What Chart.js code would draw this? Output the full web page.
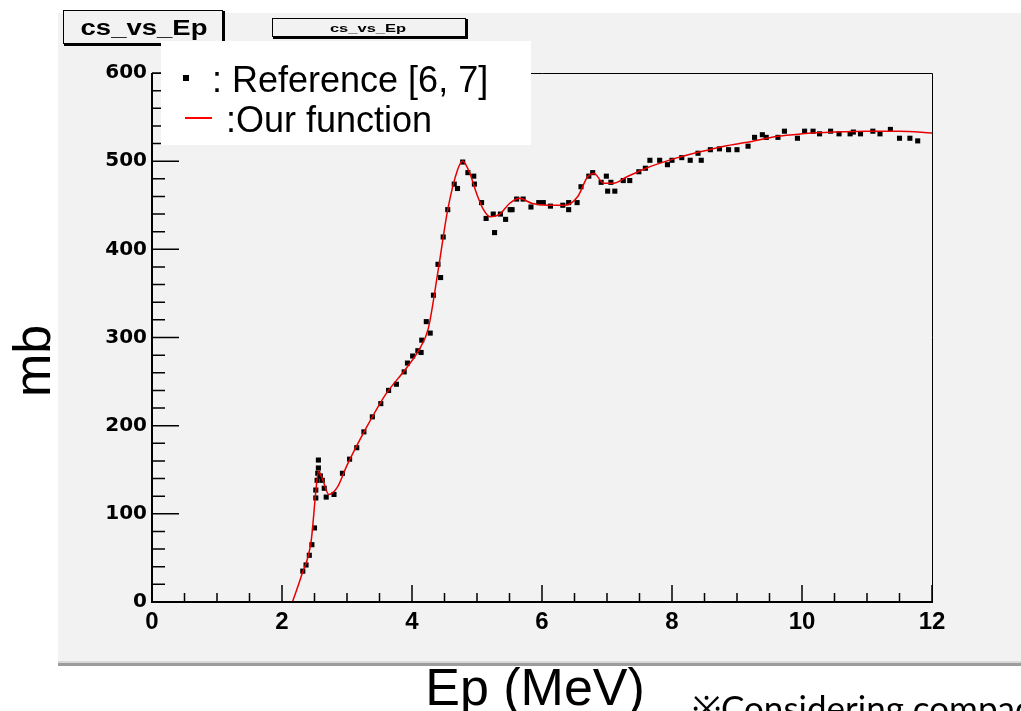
<!DOCTYPE html>
<html>
<head>
<meta charset="utf-8">
<title>cs_vs_Ep</title>
<script src="https://cdn.jsdelivr.net/npm/chart.js@4.4.1/dist/chart.umd.min.js"></script>
<style>
  html, body { margin: 0; padding: 0; background: #fff; }
  canvas { display: block; }
</style>
</head>
<body>
<canvas id="csChart" width="1021" height="711"></canvas>
<script>
// --- Reference cross section points (Ep in MeV, cs in mb) ---
const refEp = [
  2.32, 2.37, 2.42, 2.46, 2.50, 2.52, 2.52, 2.54, 2.55, 2.56, 2.56, 2.59, 2.62, 2.65, 2.68,
  2.80, 2.93, 3.04, 3.15, 3.26, 3.39, 3.52, 3.64, 3.76, 3.88, 3.93, 4.01, 4.09, 4.14, 4.15,
  4.22, 4.28, 4.33, 4.40, 4.44, 4.48, 4.55, 4.65, 4.70, 4.78, 4.86, 4.95, 4.96, 5.07, 5.14,
  5.25, 5.27, 5.36, 5.44, 5.51, 5.54, 5.61, 5.71, 5.83, 5.95, 6.02, 6.13, 6.32, 6.41, 6.41,
  6.54, 6.60, 6.72, 6.78, 6.91, 6.99, 7.01, 7.06, 7.12, 7.25, 7.35, 7.49, 7.59, 7.66, 7.81,
  7.93, 8.00, 8.15, 8.28, 8.40, 8.45, 8.59, 8.73, 8.87, 9.00, 9.17, 9.27, 9.39, 9.45, 9.63,
  9.73, 9.93, 10.04, 10.17, 10.27, 10.44, 10.57, 10.74, 10.79, 10.90, 11.09, 11.20, 11.36,
  11.50, 11.66, 11.78
];
const refCs = [
  35, 42, 53, 65, 84, 118, 127, 138, 146, 152, 161, 143, 138, 129, 119,
  122, 146, 162, 175, 193, 210, 225, 240, 247, 261, 271, 279, 285, 283, 297,
  318, 305, 348, 383, 368, 414, 445, 474, 469, 499, 487, 483, 474, 453, 435,
  440, 419, 440, 434, 445, 445, 457, 457, 448, 453, 453, 449, 450, 445, 453,
  453, 471, 483, 487, 476, 483, 466, 476, 466, 478, 478, 488, 492, 501, 501,
  496, 501, 504, 501, 509, 501, 513, 514, 513, 513, 517, 527, 530, 527, 527,
  534, 526, 534, 534, 531, 534, 531, 531, 533, 531, 534, 531, 536,
  526, 526, 523
];

// --- Fitted function (red curve) ---
const fitEp = [
  2.16, 2.3, 2.45, 2.52, 2.56, 2.62, 2.72, 2.85, 3.0, 3.3, 3.6, 3.9, 4.1, 4.25, 4.4,
  4.55, 4.7, 4.78, 4.88, 5.0, 5.1, 5.2, 5.35, 5.5, 5.65, 5.85, 6.1, 6.35, 6.55, 6.7,
  6.8, 6.95, 7.1, 7.3, 7.6, 8.0, 8.4, 8.8, 9.2, 9.6, 10.0, 10.5, 11.0, 11.5, 12.0
];
const fitCs = [
  0, 30, 70, 125, 148, 140, 122, 130, 155, 198, 236, 264, 285, 310, 375,
  445, 490, 500, 488, 462, 445, 437, 440, 452, 458, 452, 450, 450, 460, 482,
  486, 475, 475, 482, 492, 502, 510, 517, 522, 528, 531, 533, 534, 534, 532
];

// --- Axis ticks ---
const xTickValues = [0, 2, 4, 6, 8, 10, 12];
const yTickValues = [0, 100, 200, 300, 400, 500, 600];

const GRAY = '#f2f2f2';

// ROOT-like canvas decoration: pad, title boxes, frame, inward ticks, legend
const rootStyle = {
  id: 'rootStyle',
  beforeDraw(chart) {
    const ctx = chart.ctx;
    ctx.save();
    ctx.fillStyle = '#fff';
    ctx.fillRect(0, 0, chart.width, chart.height);
    ctx.fillStyle = GRAY;
    ctx.fillRect(58, 13, chart.width - 58, 650);
    // lower edge of the pad
    ctx.fillStyle = '#d8d8d8';
    ctx.fillRect(58, 661, chart.width - 58, 2);
    ctx.fillStyle = '#9c9c9c';
    ctx.fillRect(58, 663, chart.width - 58, 3);
    ctx.restore();
  },
  afterDatasetsDraw(chart) {
    const ctx = chart.ctx;
    const a = chart.chartArea;
    const xs = chart.scales.x, ys = chart.scales.y;
    ctx.save();

    // frame
    ctx.strokeStyle = '#000';
    ctx.lineWidth = 1;
    ctx.beginPath();
    ctx.moveTo(a.left, a.top + 0.5);
    ctx.lineTo(a.right + 0.5, a.top + 0.5);
    ctx.lineTo(a.right + 0.5, a.bottom);
    ctx.stroke();
    ctx.lineWidth = 2;
    ctx.beginPath();
    ctx.moveTo(a.left, a.top);
    ctx.lineTo(a.left, a.bottom);
    ctx.lineTo(a.right + 1, a.bottom);
    ctx.stroke();

    // inward ticks
    ctx.lineWidth = 1.5;
    ctx.beginPath();
    for (let v = 0; v <= 600; v += 20) {
      const y = ys.getPixelForValue(v);
      const len = v % 100 === 0 ? 27 : 13;
      ctx.moveTo(a.left, y);
      ctx.lineTo(a.left + len, y);
    }
    for (let v = 0; v <= 12; v += 0.5) {
      const x = xs.getPixelForValue(v);
      const len = v % 2 === 0 ? 17 : 9;
      ctx.moveTo(x, a.bottom);
      ctx.lineTo(x, a.bottom - len);
    }
    ctx.stroke();

    // title boxes
    drawTitleBox(ctx, 63, 10, 162, 36, 'cs_vs_Ep', 22, 1.25, 144, 35);
    drawTitleBox(ctx, 272, 18, 196, 21, 'cs_vs_Ep', 11, 1.5, 368, 32);

    // legend
    ctx.fillStyle = '#fff';
    ctx.fillRect(161, 41, 370, 104);
    ctx.fillStyle = '#000';
    ctx.fillRect(183, 75, 6, 6);
    ctx.strokeStyle = '#ff0000';
    ctx.lineWidth = 2;
    ctx.beginPath();
    ctx.moveTo(185, 118);
    ctx.lineTo(212, 118);
    ctx.stroke();
    ctx.fillStyle = '#000';
    ctx.font = '36px "Liberation Sans", Arial, sans-serif';
    ctx.textBaseline = 'alphabetic';
    ctx.textAlign = 'left';
    ctx.fillText(': Reference [6, 7]', 212, 92);
    ctx.fillText(':Our function', 226, 132);

    // axis titles
    ctx.font = '52px "Liberation Sans", Arial, sans-serif';
    ctx.textAlign = 'center';
    ctx.fillText('Ep (MeV)', 535, 705);
    ctx.save();
    ctx.translate(50, 361);
    ctx.rotate(-Math.PI / 2);
    ctx.fillText('mb', 0, 0);
    ctx.restore();

    // note at the bottom
    ctx.font = '35px Lato, "Open Sans", sans-serif';
    ctx.textAlign = 'left';
    ctx.fillText('※Considering compactness', 692, 721);

    ctx.restore();
  }
};

function drawTitleBox(ctx, x, y, w, h, text, size, sx, cx, baseline) {
  ctx.fillStyle = GRAY;
  ctx.fillRect(x, y, w, h);
  ctx.strokeStyle = '#000';
  ctx.lineWidth = 1;
  ctx.strokeRect(x + 0.5, y + 0.5, w - 3, h - 3);
  // shadow on right and bottom
  ctx.fillStyle = '#000';
  ctx.fillRect(x + w - 3, y + 1, 3, h - 1);
  ctx.fillRect(x + 1, y + h - 3, w - 1, 3);
  ctx.save();
  ctx.translate(cx, baseline);
  ctx.scale(sx, 1);
  ctx.font = 'bold ' + size + 'px "Liberation Sans", Arial, sans-serif';
  ctx.textAlign = 'center';
  ctx.textBaseline = 'alphabetic';
  ctx.fillText(text, 0, 0);
  ctx.restore();
}

new Chart(document.getElementById('csChart'), {
  type: 'scatter',
  data: {
    datasets: [
      {
        label: 'Our function',
        data: fitEp.map((e, i) => ({ x: e, y: fitCs[i] })),
        showLine: true,
        borderColor: '#e80000',
        borderWidth: 1.5,
        pointRadius: 0,
        cubicInterpolationMode: 'monotone',
        fill: false
      },
      {
        label: 'Reference [6, 7]',
        data: refEp.map((e, i) => ({ x: e, y: refCs[i] })),
        showLine: false,
        pointStyle: 'rect',
        pointRadius: 3.6,
        borderWidth: 0,
        backgroundColor: '#000'
      }
    ]
  },
  options: {
    responsive: false,
    animation: false,
    layout: { padding: { top: 73, right: 89, left: 92, bottom: 69 } },
    plugins: {
      legend: { display: false },
      tooltip: { enabled: false },
      title: { display: false }
    },
    scales: {
      x: {
        type: 'linear',
        min: 0,
        max: 12,
        afterFit: s => { s.height = 40; },
        afterBuildTicks: s => { s.ticks = xTickValues.map(v => ({ value: v })); },
        grid: { display: false, drawTicks: false },
        border: { display: false },
        ticks: {
          color: '#000',
          padding: 6,
          maxRotation: 0,
          font: { family: '"Liberation Sans", Arial, sans-serif', weight: 'bold', size: 24 }
        }
      },
      y: {
        type: 'linear',
        min: 0,
        max: 600,
        afterFit: s => { s.width = 60; },
        afterBuildTicks: s => { s.ticks = yTickValues.map(v => ({ value: v })); },
        grid: { display: false, drawTicks: false },
        border: { display: false },
        ticks: {
          color: '#000',
          padding: 5,
          font: { family: '"DejaVu Sans", sans-serif', weight: 'bold', size: 20 }
        }
      }
    }
  },
  plugins: [rootStyle]
});
</script>
</body>
</html>
